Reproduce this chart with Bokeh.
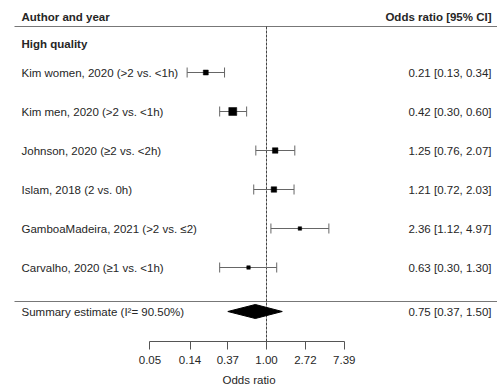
import numpy as np
from bokeh.plotting import figure
from bokeh.models import Range1d, FixedTicker, CustomJSTickFormatter, Label
from bokeh.embed import file_html
from bokeh.resources import INLINE

# ---- data -------------------------------------------------------------
studies = [
    "Kim women, 2020 (>2 vs. <1h)",
    "Kim men, 2020 (>2 vs. <1h)",
    "Johnson, 2020 (\u22652 vs. <2h)",
    "Islam, 2018 (2 vs. 0h)",
    "GamboaMadeira, 2021 (>2 vs. \u22642)",
    "Carvalho, 2020 (\u22651 vs. <1h)",
]
or_est = [0.21, 0.42, 1.25, 1.21, 2.36, 0.63]
ci_lo = [0.13, 0.30, 0.76, 0.72, 1.12, 0.30]
ci_hi = [0.34, 0.60, 2.07, 2.03, 4.97, 1.30]

summary_est = 0.75
summary_lo = 0.37
summary_hi = 1.50
i2_pct = 90.50

tick_values = [0.05, 0.14, 0.37, 1.00, 2.72, 7.39]
axis_title = "Odds ratio"

# ---- layout -----------------------------------------------------------
W, H = 497, 388
FRAME_BOTTOM = 341          # pixel row of the x axis line
NULL_PX = 266               # pixel column of OR = 1
PX_PER_LN = 38.9            # pixels per natural-log unit
ROW0, ROW_STEP = 72, 39     # first study row and spacing (pixels)
marker_px = [5, 8, 5.5, 5.5, 3.5, 3.5]

FONT = "Liberation Sans"
FS = "11.5px"
TXT = "#262626"


def px_to_or(px):
    """Horizontal pixel position -> odds-ratio value on the log scale."""
    return float(np.exp((px - NULL_PX) / PX_PER_LN))


p = figure(
    width=W, height=H,
    x_axis_type="log",
    x_range=Range1d(px_to_or(0), px_to_or(W)),
    y_range=Range1d(FRAME_BOTTOM, 0),
    y_axis_location=None,
    output_backend="svg",
    toolbar_location=None,
    min_border_left=0, min_border_right=0, min_border_top=0,
    min_border_bottom=H - FRAME_BOTTOM,
)
p.grid.visible = False
p.outline_line_color = None
p.background_fill_color = "white"
p.border_fill_color = "white"

# ---- x axis -----------------------------------------------------------
ax = p.xaxis[0]
ax.ticker = FixedTicker(ticks=tick_values)
ax.formatter = CustomJSTickFormatter(code="return tick.toFixed(2);")
ax.bounds = (tick_values[0], tick_values[-1])
ax.major_tick_in = 0
ax.major_tick_out = 8
ax.minor_tick_line_color = None
ax.axis_line_color = "#555555"
ax.major_tick_line_color = "#555555"
ax.major_label_text_font = FONT
ax.major_label_text_font_size = FS
ax.major_label_text_color = TXT
ax.major_label_standoff = 6
ax.axis_label = axis_title
ax.axis_label_text_font = FONT
ax.axis_label_text_font_size = FS
ax.axis_label_text_font_style = "normal"
ax.axis_label_text_color = TXT
ax.axis_label_standoff = 7

# ---- rules ------------------------------------------------------------
p.segment(x0=[px_to_or(14)] * 2, x1=[px_to_or(W)] * 2, y0=[26, 301], y1=[26, 301],
          line_color="#777777", line_width=1)
p.segment(x0=[1.0], x1=[1.0], y0=[26], y1=[FRAME_BOTTOM],
          line_color="#444444", line_width=1, line_dash="3 1")

# ---- study rows -------------------------------------------------------
ys = [ROW0 + ROW_STEP * i for i in range(len(studies))]
p.segment(x0=ci_lo, x1=ci_hi, y0=ys, y1=ys, line_color="#666666", line_width=1)
p.segment(x0=ci_lo, x1=ci_lo, y0=[y - 5 for y in ys], y1=[y + 5 for y in ys],
          line_color="#666666", line_width=1)
p.segment(x0=ci_hi, x1=ci_hi, y0=[y - 5 for y in ys], y1=[y + 5 for y in ys],
          line_color="#666666", line_width=1)
p.scatter(x=or_est, y=ys, marker="square", size=marker_px,
          fill_color="black", line_color="black", line_width=0.5)

# ---- summary diamond --------------------------------------------------
Y_SUM = 311
p.patch(x=[summary_lo, summary_est, summary_hi, summary_est],
        y=[Y_SUM, Y_SUM - 7, Y_SUM, Y_SUM + 7],
        fill_color="black", line_color="black")


def label(x, y, text, align="left", bold=False):
    p.add_layout(Label(
        x=x, x_units="screen", y=y, y_units="data", text=text,
        text_align=align, text_baseline="middle",
        text_font=FONT, text_font_size=FS, text_color=TXT,
        text_font_style="bold" if bold else "normal",
    ))


label(21, 16, "Author and year", bold=True)
label(491, 16, "Odds ratio [95% CI]", align="right", bold=True)
label(21, 43, "High quality", bold=True)
for name, y, e, lo, hi in zip(studies, ys, or_est, ci_lo, ci_hi):
    label(21, y, name)
    label(491, y, f"{e:.2f} [{lo:.2f}, {hi:.2f}]", align="right")
label(21, Y_SUM, f"Summary estimate (I\u00b2= {i2_pct:.2f}%)")
label(491, Y_SUM, f"{summary_est:.2f} [{summary_lo:.2f}, {summary_hi:.2f}]", align="right")

open("out.html", "w").write(file_html(p, INLINE))
